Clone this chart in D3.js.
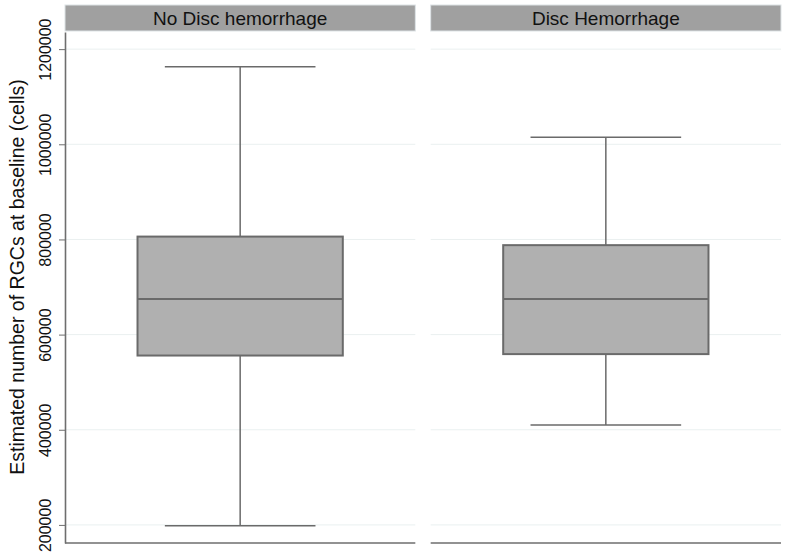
<!DOCTYPE html>
<html><head><meta charset="utf-8">
<script src="https://cdn.jsdelivr.net/npm/d3@7"></script>
<style>body{margin:0;background:#fff}svg{display:block}</style>
</head><body>
<script>
const categories = ["No Disc hemorrhage", "Disc Hemorrhage"];
const whiskerLow = [198000, 410000];
const q1 = [556000, 559000];
const median = [675000, 675000];
const q3 = [806000, 788000];
const whiskerHigh = [1163000, 1015000];
const yTicks = [200000, 400000, 600000, 800000, 1000000, 1200000];
const yTitle = "Estimated number of RGCs at baseline (cells)";

const W = 787, H = 560;
const svg = d3.select("body").append("svg").attr("width", W).attr("height", H);
const font = "'Liberation Sans', Arial, Helvetica, sans-serif";

const x = d3.scaleBand().domain(categories).range([65, 781]).paddingInner(0.042);
const y = d3.scaleLinear().domain([162000, 1236000]).range([543, 32]);
const bw = x.bandwidth();

const data = categories.map((c, i) => ({c, lo: whiskerLow[i], q1: q1[i], med: median[i], q3: q3[i], hi: whiskerHigh[i]}));

const panels = svg.selectAll("g.panel").data(data).join("g")
  .attr("class", "panel").attr("transform", d => `translate(${x(d.c)},0)`);

// gridlines
panels.each(function() {
  d3.select(this).selectAll("line.grid").data(yTicks).join("line")
    .attr("x1", 0).attr("x2", bw).attr("y1", d => y(d)).attr("y2", d => y(d))
    .attr("stroke", "#eaf0f0").attr("stroke-width", 1);
});

// strip headers
panels.append("rect").attr("x", 0).attr("y", 5).attr("width", bw).attr("height", 26)
  .attr("fill", "#a0a0a0").attr("stroke", "#dde3e6").attr("stroke-width", 1);
panels.append("text").attr("x", bw / 2).attr("y", 24.5).attr("text-anchor", "middle")
  .attr("font-family", font).attr("font-size", 19).attr("fill", "#111").text(d => d.c);

// bottom axis line
panels.append("line").attr("x1", 0).attr("x2", bw).attr("y1", 543).attr("y2", 543)
  .attr("stroke", "#6e6e6e").attr("stroke-width", 1.6);

const cx = bw / 2, boxW = bw * 0.586, capW = bw * 0.43;
const stroke = "#6a6a6a";
// whiskers
panels.append("line").attr("x1", cx).attr("x2", cx).attr("y1", d => y(d.hi)).attr("y2", d => y(d.q3))
  .attr("stroke", stroke).attr("stroke-width", 1.5);
panels.append("line").attr("x1", cx).attr("x2", cx).attr("y1", d => y(d.q1)).attr("y2", d => y(d.lo))
  .attr("stroke", stroke).attr("stroke-width", 1.5);
panels.append("line").attr("x1", cx - capW / 2).attr("x2", cx + capW / 2).attr("y1", d => y(d.hi)).attr("y2", d => y(d.hi))
  .attr("stroke", stroke).attr("stroke-width", 1.5);
panels.append("line").attr("x1", cx - capW / 2).attr("x2", cx + capW / 2).attr("y1", d => y(d.lo)).attr("y2", d => y(d.lo))
  .attr("stroke", stroke).attr("stroke-width", 1.5);
// box
panels.append("rect").attr("x", cx - boxW / 2).attr("width", boxW)
  .attr("y", d => y(d.q3)).attr("height", d => y(d.q1) - y(d.q3))
  .attr("fill", "#b0b0b0").attr("stroke", stroke).attr("stroke-width", 2);
panels.append("line").attr("x1", cx - boxW / 2).attr("x2", cx + boxW / 2).attr("y1", d => y(d.med)).attr("y2", d => y(d.med))
  .attr("stroke", stroke).attr("stroke-width", 2);

// y axis
const yAxis = d3.axisLeft(y).tickValues(yTicks).tickFormat(d3.format("d")).tickSize(6).tickSizeOuter(0);
const ga = svg.append("g").attr("transform", `translate(65,0)`).call(yAxis);
ga.select(".domain").attr("stroke", "#6e6e6e").attr("stroke-width", 1.6);
ga.selectAll(".tick line").attr("stroke", "#6e6e6e");
ga.selectAll(".tick text")
  .attr("font-family", font).attr("font-size", 16).attr("fill", "#111")
  .attr("transform", "rotate(-90)").attr("x", 0).attr("y", -14)
  .attr("dy", "0").attr("text-anchor", "middle");

svg.append("text").attr("transform", `translate(24,${(49 + 525) / 2 - 10}) rotate(-90)`)
  .attr("text-anchor", "middle").attr("font-family", font).attr("font-size", 19.5).attr("fill", "#111")
  .text(yTitle);
</script>
</body></html>
